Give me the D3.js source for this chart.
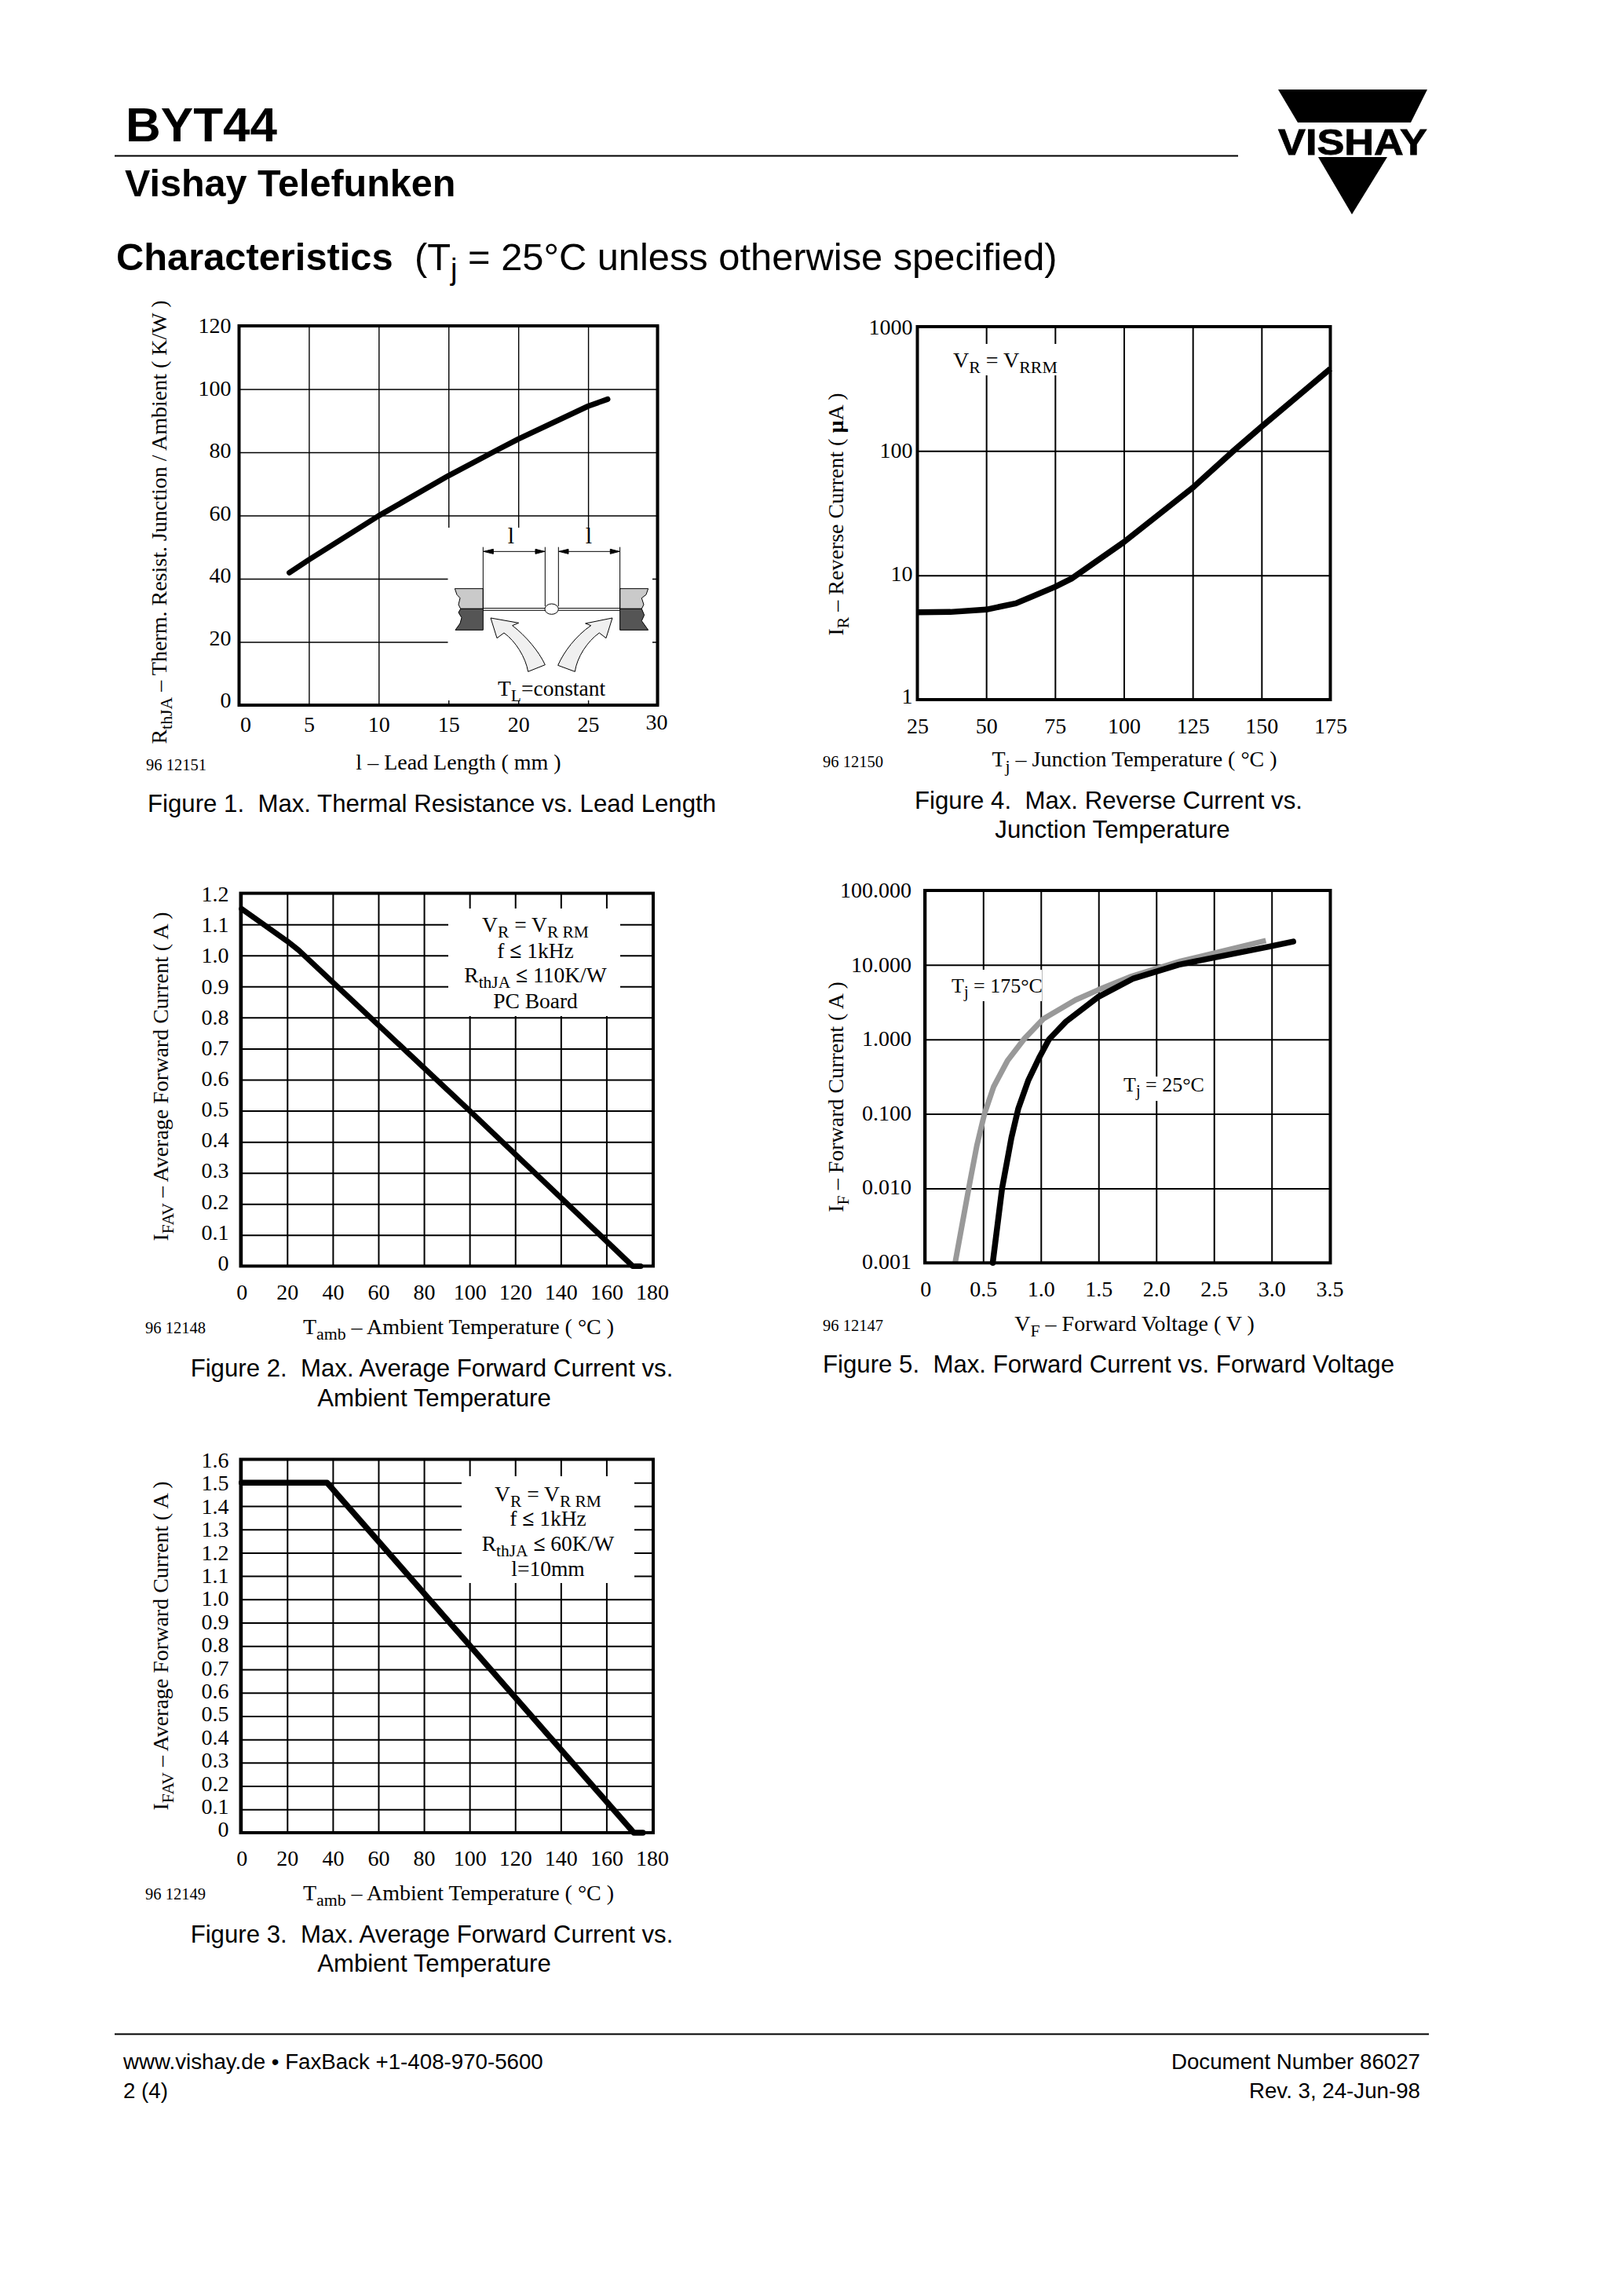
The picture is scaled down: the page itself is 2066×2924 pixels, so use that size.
<!DOCTYPE html>
<html><head><meta charset="utf-8">
<script src="https://cdnjs.cloudflare.com/ajax/libs/d3/7.8.5/d3.min.js"></script>
<style>html,body{margin:0;padding:0;background:#fff}svg{display:block}</style>
</head><body><svg id="page" width="2066" height="2924"></svg>
<script>
// ---- data ----
const fig1Length = [3.6, 5, 10, 15, 18.6, 20, 25, 26.4];
const fig1Rth = [41.9, 46, 59.9, 72.6, 81, 84.2, 94.6, 96.8];
const fig1XTicks = [0, 5, 10, 15, 20, 25, 30];
const fig1YTicks = [0, 20, 40, 60, 80, 100, 120];

const fig4Temp = [25, 37, 50, 60.8, 75, 81, 100, 125, 140, 150, 175];
const fig4Ir = [5.05, 5.07, 5.3, 5.95, 8.07, 9.4, 18.5, 50.6, 101, 157, 458];
const fig4XTicks = [25, 50, 75, 100, 125, 150, 175];
const fig4YTicks = [1, 10, 100, 1000];

const fig2Temp = [0, 20, 25, 100, 171.5, 175];
const fig2If = [1.15, 1.046, 1.017, 0.5, 0, 0];
const fig3Temp = [0, 37.5, 172, 176];
const fig3If = [1.5, 1.5, 0, 0];
const tambTicks = [0, 20, 40, 60, 80, 100, 120, 140, 160, 180];
const fig2YTicks = [0, .1, .2, .3, .4, .5, .6, .7, .8, .9, 1, 1.1, 1.2];
const fig3YTicks = [0, .1, .2, .3, .4, .5, .6, .7, .8, .9, 1, 1.1, 1.2, 1.3, 1.4, 1.5, 1.6];

const fig5HotV = [.257, .387, .446, .511, .59, .713, .859, 1.022, 1.3, 1.494, 1.787, 2.21, 2.95];
const fig5HotI = [.001, .0126, .038, .1, .23, .525, 1.03, 1.89, 3.38, 4.6, 7.05, 11.2, 21.2];
const fig5ColdV = [.583, .664, .745, .804, .892, .99, 1.07, 1.217, 1.494, 1.803, 2.194, 2.975, 3.187];
const fig5ColdI = [.001, .01, .048, .117, .284, .587, 1, 1.73, 3.69, 6.59, 10.07, 17.6, 20.6];
const fig5XTicks = [0, .5, 1, 1.5, 2, 2.5, 3];
const fig5XLabels = ["0", "0.5", "1.0", "1.5", "2.0", "2.5", "3.0"];
const fig5YTicks = [.001, .01, .1, 1, 10, 100];

const SERIF = "'Liberation Serif','Times New Roman',serif";
const SANS = "'Liberation Sans',Arial,sans-serif";
const svg = d3.select("#page");

// text helper: _{x} subscript, *{x} bold
function rich(sel, str, size) {
  const re = /([_*])\{([^}]*)\}/g;
  let last = 0, m, pending = 0;
  const add = (t, o) => {
    const s = sel.append("tspan").text(t);
    if (pending) { s.attr("dy", pending); pending = 0; }
    if (o === "_") {
      s.attr("dy", size * .24).attr("font-size", size * .78);
      pending = -size * .24;
    }
    if (o === "*") s.attr("font-weight", "bold");
  };
  while ((m = re.exec(str))) {
    if (m.index > last) add(str.slice(last, m.index));
    add(m[2], m[1]);
    last = re.lastIndex;
  }
  if (last < str.length) add(str.slice(last));
}
function label(x, y, str, o = {}) {
  const size = o.size || 27.5;
  const t = svg.append("text").attr("font-family", o.font || SERIF).attr("font-size", size)
    .attr("fill", "#000").attr("text-anchor", o.anchor || "start").attr("xml:space", "preserve")
    .style("white-space", "pre");
  if (o.bold) t.attr("font-weight", "bold");
  if (o.len) t.attr("textLength", o.len).attr("lengthAdjust", "spacingAndGlyphs");
  if (o.rotate) t.attr("transform", `translate(${x},${y}) rotate(-90)`);
  else t.attr("x", x).attr("y", y);
  rich(t, str, size);
  return t;
}

function chart(c) {
  const x = d3.scaleLinear().domain(c.xDomain).range(c.xRange);
  const y = (c.log ? d3.scaleLog() : d3.scaleLinear()).domain(c.yDomain).range(c.yRange);
  const g = svg.append("g");
  const axX = d3.axisBottom(x).tickValues(c.xTicks).tickFormat(c.xFormat || (d => d))
    .tickSize(-(c.frame.b - c.frame.t)).tickPadding(c.xPad);
  const axY = d3.axisLeft(y).tickValues(c.yTicks).tickFormat(c.yFormat || (d => d))
    .tickSize(-(c.frame.r - c.frame.l)).tickPadding(c.yPad);
  const gx = g.append("g").attr("transform", `translate(0,${c.frame.b})`).call(axX);
  const gy = g.append("g").attr("transform", `translate(${c.frame.l},0)`).call(axY);
  [gx, gy].forEach(a => {
    a.select(".domain").remove();
    a.selectAll("line").attr("stroke", "#000").attr("stroke-width", c.grid);
    a.selectAll("text").attr("font-family", SERIF).attr("font-size", 28).attr("fill", "#000");
  });
  // tick labels in the original sit slightly off their grid lines, more towards the bottom
  gy.selectAll("text").attr("y", d => {
    const f = (y(d) - c.frame.t) / (c.frame.b - c.frame.t);
    return c.yShift[0] + (c.yShift[1] - c.yShift[0]) * f;
  });
  (c.boxes || []).forEach(b => g.append("rect").attr("x", b[0]).attr("y", b[1])
    .attr("width", b[2] - b[0]).attr("height", b[3] - b[1]).attr("fill", "#fff"));
  const line = d3.line().x(d => x(d[0])).y(d => y(d[1])).curve(d3.curveLinear);
  c.series.forEach(s => g.append("path").attr("d", line(d3.zip(s.x, s.y))).attr("fill", "none")
    .attr("stroke", s.color || "#000").attr("stroke-width", s.w).attr("stroke-linejoin", "round")
    .attr("stroke-linecap", s.cap || "round"));
  g.append("rect").attr("x", c.frame.l).attr("y", c.frame.t)
    .attr("width", c.frame.r - c.frame.l).attr("height", c.frame.b - c.frame.t)
    .attr("fill", "none").attr("stroke", "#000").attr("stroke-width", c.frameW || 4);
  return { gx, gy };
}

// ---- header ----
label(160, 180, "BYT44", { font: SANS, bold: true, size: 62 });
svg.append("line").attr("x1", 146).attr("x2", 1577).attr("y1", 198.5).attr("y2", 198.5).attr("stroke", "#000").attr("stroke-width", 2.2);
label(159, 250, "Vishay Telefunken", { font: SANS, bold: true, size: 48.5 });
label(148, 344, "Characteristics", { font: SANS, bold: true, size: 48.8 });
label(528, 344, "(T_{j} = 25°C unless otherwise specified)", { font: SANS, size: 48.8 });
svg.append("path").attr("d", "M1628,114H1818L1797,156H1653Z").attr("fill", "#000");
svg.append("path").attr("d", "M1679,200H1767L1722,273Z").attr("fill", "#000");
label(1723, 197, "VISHAY", { font: SANS, bold: true, size: 46, anchor: "middle", len: 190 }).attr("stroke", "#000").attr("stroke-width", .8);

// ---- Figure 1 ----
const f1 = chart({
  xDomain: [0, 30], xRange: [304.5, 838], yDomain: [0, 120], yRange: [898, 415],
  xTicks: fig1XTicks, yTicks: fig1YTicks, frame: { l: 304.5, r: 837.5, t: 415, b: 898 },
  grid: 1.4, xPad: 14, yPad: 10, yShift: [0, -6],
  boxes: [[570.5, 672, 831, 892]],
  series: [{ x: fig1Length, y: fig1Rth, w: 7 }]
});
f1.gx.selectAll(".tick text").filter(d => d === 0).attr("dx", 8);
f1.gx.selectAll(".tick text").filter(d => d === 30).attr("y", 11).attr("dx", -2);
// inset illustration, drawn in 3x crop units
const inset = svg.append("g").attr("transform", "translate(560,670) scale(.3333)")
  .attr("fill", "none").attr("stroke", "#000").attr("stroke-width", 3);
inset.append("path").attr("fill", "#cacaca").attr("d", "M166,239H58L66,262L78,275L72,300L80,316H166Z");
inset.append("path").attr("fill", "#555").attr("d", "M166,316H80L72,330L84,350L78,372L60,397H166Z");
inset.append("path").attr("fill", "#cacaca").attr("d", "M689,239H797L789,262L772,275L780,300L772,316H689Z");
inset.append("path").attr("fill", "#555").attr("d", "M689,316H772L782,340L772,362L797,397H689Z");
inset.append("path").attr("d", "M166,80V316M403,80V306M454,80V306M689,80V316");
inset.append("path").attr("d", "M166,97H403M454,97H689");
inset.append("path").attr("d", "M166,314H403M166,322H403M454,314H689M454,322H689");
inset.append("ellipse").attr("cx", 428).attr("cy", 317).attr("rx", 26).attr("ry", 20).attr("fill", "#fff");
inset.append("path").attr("fill", "#000").attr("d", "M168,97L205,88V106ZM401,97L366,88V106ZM456,97L492,88V106ZM687,97L652,88V106Z");
inset.append("path").attr("fill", "#f0f0f0").attr("d", "M195,351L302,370L278,380C330,420 380,480 403,530L338,556C328,500 290,440 246,408L219,428Z");
inset.append("path").attr("fill", "#f0f0f0").attr("d", "M660,351L557,372L578,380C520,420 475,480 452,532L517,556C525,500 565,440 610,408L636,428Z");
label(651, 692, "l", { size: 30, anchor: "middle" });
label(750, 692, "l", { size: 30, anchor: "middle" });
label(634, 886, "T_{L}=constant", { size: 27.5 });
label(212, 665, "R_{thJA} – Therm. Resist. Junction / Ambient ( K/W )", { rotate: true, anchor: "middle", size: 28 });
label(584, 980, "l – Lead Length ( mm )", { anchor: "middle", size: 28 });
label(186, 981, "96 12151", { size: 20.5 });
label(188, 1034, "Figure 1.  Max. Thermal Resistance vs. Lead Length", { font: SANS, size: 31.2 });

// ---- Figure 4 ----
chart({
  xDomain: [25, 175], xRange: [1168.5, 1694.5], yDomain: [1, 1000], yRange: [891, 416], log: true,
  xTicks: fig4XTicks, yTicks: fig4YTicks, frame: { l: 1168.5, r: 1694.5, t: 416, b: 891 },
  grid: 2, xPad: 23, yPad: 6, yShift: [1, -4], yFormat: d3.format("d"),
  boxes: [[1216, 438, 1348, 478]],
  series: [{ x: fig4Temp, y: fig4Ir, w: 7.5, cap: "butt" }]
});
label(1214, 468, "V_{R} = V_{RRM}", { size: 28 });
label(1074, 655, "I_{R} – Reverse Current ( *{µ}A )", { rotate: true, anchor: "middle", size: 28 });
label(1445, 976, "T_{j} – Junction Temperature ( °C )", { anchor: "middle", size: 28 });
label(1048, 977, "96 12150", { size: 20.5 });
label(1412, 1030, "Figure 4.  Max. Reverse Current vs.", { font: SANS, size: 31.2, anchor: "middle" });
label(1417, 1067, "Junction Temperature", { font: SANS, size: 31.2, anchor: "middle" });

// ---- Figure 2 ----
chart({
  xDomain: [0, 180], xRange: [307.7, 830.5], yDomain: [0, 1.2], yRange: [1612.4, 1137.6],
  xTicks: tambTicks, yTicks: fig2YTicks, yFormat: d => d === 0 ? "0" : d3.format(".1f")(d),
  frame: { l: 306.5, r: 832, t: 1137.6, b: 1612.4 }, grid: 2, xPad: 23, yPad: 15, yShift: [1, -4],
  boxes: [[571, 1157, 790, 1294]],
  series: [{ x: fig2Temp, y: fig2If, w: 7 }]
});
label(682, 1187, "V_{R} = V_{R RM}", { anchor: "middle" });
label(682, 1220, "f *{≤} 1kHz", { anchor: "middle" });
label(682, 1251, "R_{thJA} *{≤} 110K/W", { anchor: "middle" });
label(682, 1284, "PC Board", { anchor: "middle" });
label(214, 1371, "I_{FAV} – Average Forward Current ( A )", { rotate: true, anchor: "middle", size: 28 });
label(584, 1699, "T_{amb} – Ambient Temperature ( °C )", { anchor: "middle", size: 28 });
label(185, 1698, "96 12148", { size: 20.5 });
label(550, 1753, "Figure 2.  Max. Average Forward Current vs.", { font: SANS, size: 31.2, anchor: "middle" });
label(553, 1791, "Ambient Temperature", { font: SANS, size: 31.2, anchor: "middle" });

// ---- Figure 3 ----
chart({
  xDomain: [0, 180], xRange: [307.7, 830.5], yDomain: [0, 1.6], yRange: [2334, 1858.5],
  xTicks: tambTicks, yTicks: fig3YTicks, yFormat: d => d === 0 ? "0" : d3.format(".1f")(d),
  frame: { l: 306.5, r: 832, t: 1858.5, b: 2334 }, grid: 2, xPad: 22, yPad: 15, yShift: [1, -4],
  boxes: [[588, 1880, 808, 2016]],
  series: [{ x: fig3Temp, y: fig3If, w: 7.5 }]
});
label(698, 1912, "V_{R} = V_{R RM}", { anchor: "middle" });
label(698, 1943, "f *{≤} 1kHz", { anchor: "middle" });
label(698, 1975, "R_{thJA} *{≤} 60K/W", { anchor: "middle" });
label(698, 2007, "l=10mm", { anchor: "middle" });
label(214, 2096, "I_{FAV} – Average Forward Current ( A )", { rotate: true, anchor: "middle", size: 28 });
label(584, 2420, "T_{amb} – Ambient Temperature ( °C )", { anchor: "middle", size: 28 });
label(185, 2419, "96 12149", { size: 20.5 });
label(550, 2474, "Figure 3.  Max. Average Forward Current vs.", { font: SANS, size: 31.2, anchor: "middle" });
label(553, 2511, "Ambient Temperature", { font: SANS, size: 31.2, anchor: "middle" });

// ---- Figure 5 ----
chart({
  xDomain: [0, 3.5], xRange: [1178.8, 1693.2], yDomain: [.001, 100], yRange: [1608.3, 1134], log: true,
  xTicks: fig5XTicks, yTicks: fig5YTicks, xFormat: (d, i) => fig5XLabels[i], yFormat: d3.format(".3f"),
  frame: { l: 1178, r: 1694.5, t: 1134, b: 1608.3 }, grid: 2, xPad: 23, yPad: 17, yShift: [0, -2],
  boxes: [[1212, 1235, 1327, 1275], [1431, 1371, 1535, 1402]],
  series: [{ x: fig5HotV, y: fig5HotI, w: 7, color: "#999", cap: "butt" },
           { x: fig5ColdV, y: fig5ColdI, w: 7.5, cap: "round" }]
});
label(1694, 1651, "3.5", { anchor: "middle", size: 28 });
label(1212, 1264, "T_{j} = 175°C", { size: 26 });
label(1431, 1390, "T_{j} = 25°C", { size: 26 });
label(1074, 1397, "I_{F} – Forward Current ( A )", { rotate: true, anchor: "middle", size: 28 });
label(1445, 1695, "V_{F} – Forward Voltage ( V )", { anchor: "middle", size: 28 });
label(1048, 1695, "96 12147", { size: 20.5 });
label(1048, 1748, "Figure 5.  Max. Forward Current vs. Forward Voltage", { font: SANS, size: 31.2 });

// ---- footer ----
svg.append("line").attr("x1", 146).attr("x2", 1820).attr("y1", 2590.5).attr("y2", 2590.5).attr("stroke", "#000").attr("stroke-width", 2.2);
label(157, 2635, "www.vishay.de • FaxBack +1-408-970-5600", { font: SANS, size: 27.7 });
label(157, 2672, "2 (4)", { font: SANS, size: 27.7 });
label(1809, 2635, "Document Number 86027", { font: SANS, size: 27.7, anchor: "end" });
label(1809, 2672, "Rev. 3, 24-Jun-98", { font: SANS, size: 27.7, anchor: "end" });
</script></body></html>
